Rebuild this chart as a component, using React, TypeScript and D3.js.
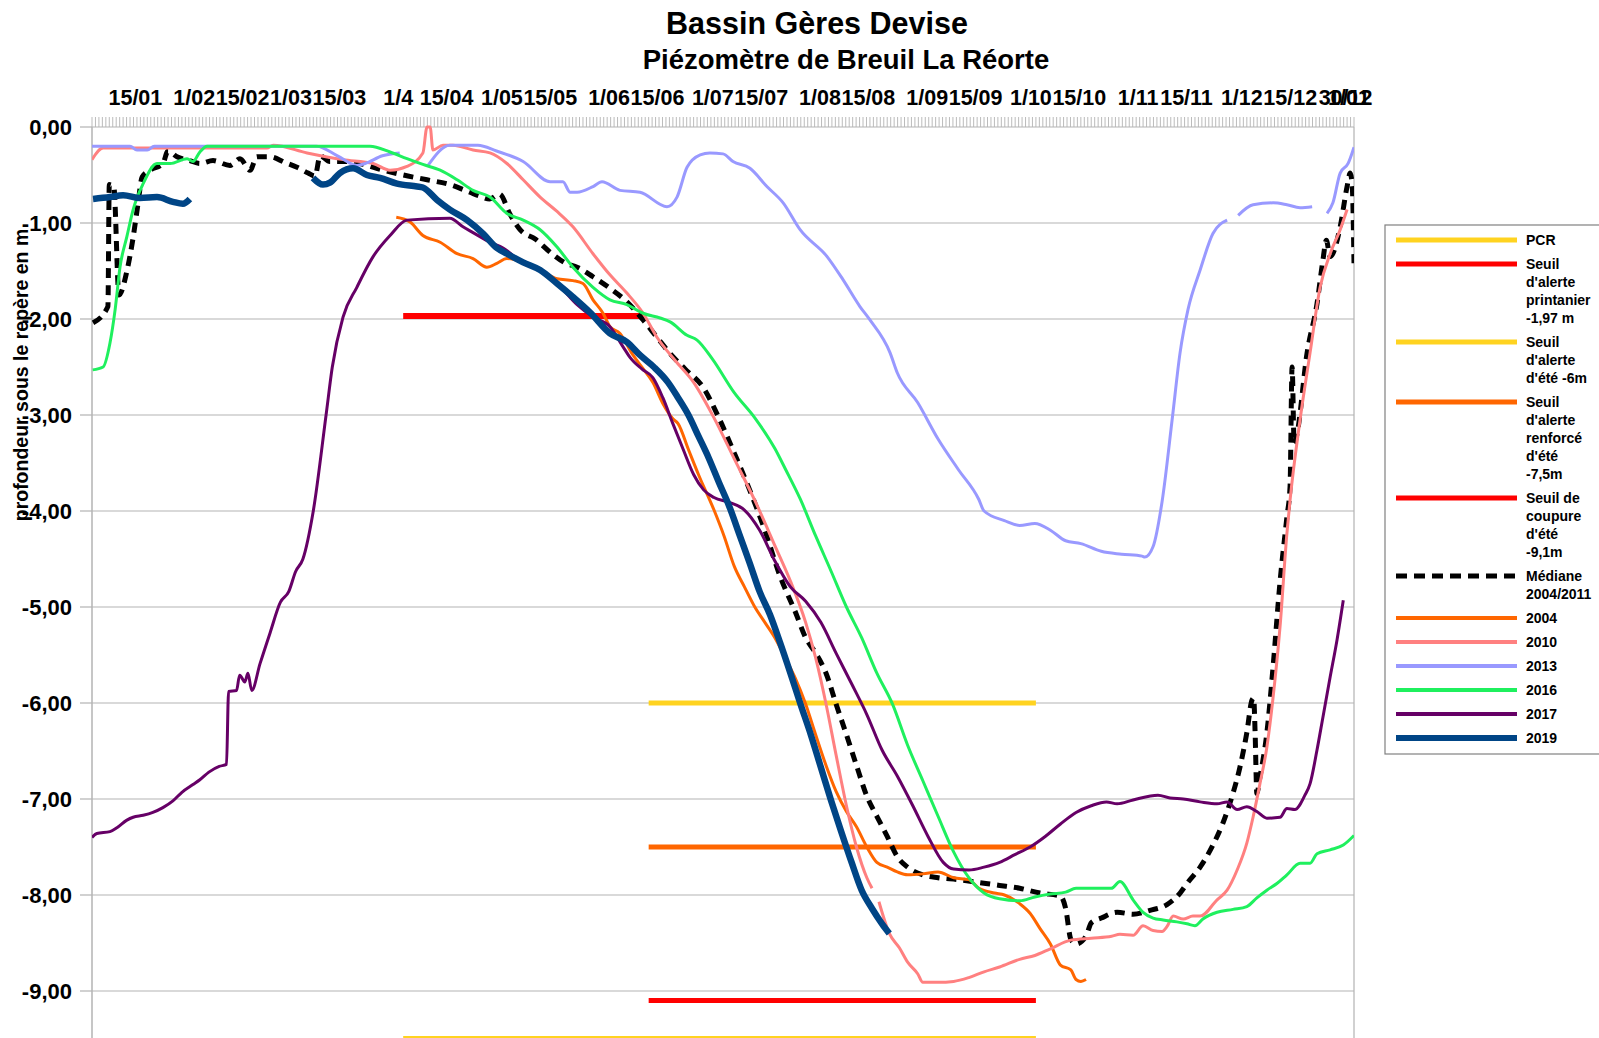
import React from 'react';
import * as d3 from 'd3';

type P = [number, number | null];

const W = 1599;
const H = 1038;
const PLOT = { left: 92, right: 1354, top: 127, bottom: 1087 };

const xLabelDays: number[] = [15, 32, 46, 60, 74, 91, 105, 121, 135, 152, 166, 182, 196, 213, 227, 244, 258, 274, 288, 305, 319, 335, 349, 365, 366];
const xLabelTexts: string[] = ['15/01', '1/02', '15/02', '1/03', '15/03', '1/4', '15/04', '1/05', '15/05', '1/06', '15/06', '1/07', '15/07', '1/08', '15/08', '1/09', '15/09', '1/10', '15/10', '1/11', '15/11', '1/12', '15/12', '30/12', '1/01'];
const yTickValues: number[] = [0, -1, -2, -3, -4, -5, -6, -7, -8, -9];

const pcr: P[] = [[91, -9.5], [274, -9.5]];
const seuilPrintanier: P[] = [[91, -1.97], [161, -1.97]];
const seuilEte: P[] = [[162, -6], [274, -6]];
const seuilRenforce: P[] = [[162, -7.5], [274, -7.5]];
const seuilCoupure: P[] = [[162, -9.1], [274, -9.1]];

const mediane: P[] = [[1.3, -2.04], [5.6, -1.87], [6.0, -0.6], [7.3, -0.62], [8.8, -1.75], [11.1, -1.5], [12.9, -1.15], [14.3, -0.8], [15.5, -0.52], [17.8, -0.45], [21.5, -0.38], [23, -0.25], [25.6, -0.31], [29.3, -0.35], [32.2, -0.38], [36, -0.35], [40.9, -0.4], [43.8, -0.33], [46.7, -0.45], [48.7, -0.31], [52.5, -0.31], [56.8, -0.37], [60.3, -0.42], [63.5, -0.48], [65.5, -0.51], [67, -0.3], [69.8, -0.36], [74.2, -0.36], [78.5, -0.38], [85.2, -0.45], [91, -0.5], [97.9, -0.55], [104.5, -0.6], [110.3, -0.68], [113.2, -0.72], [116, -0.75], [118.9, -0.7], [121.9, -0.91], [124.8, -1.07], [129.3, -1.17], [133.7, -1.31], [138.1, -1.42], [141.3, -1.46], [145.9, -1.56], [150.8, -1.68], [155.7, -1.82], [160.4, -2.01], [164.4, -2.19], [168.2, -2.36], [172.5, -2.52], [177.9, -2.72], [182.3, -3.03], [186.8, -3.4], [191.2, -3.78], [195.6, -4.2], [200, -4.68], [204.4, -5.05], [207.4, -5.32], [210.3, -5.48], [213.3, -5.69], [216.2, -6.01], [219.2, -6.33], [222.1, -6.65], [225.1, -6.97], [228, -7.18], [231, -7.39], [233.9, -7.6], [236.9, -7.71], [241.3, -7.79], [245.7, -7.82], [251.6, -7.84], [257.5, -7.87], [263.5, -7.9], [269.3, -7.93], [275.2, -7.98], [281.1, -8.01], [282.6, -8.14], [284.1, -8.46], [285.6, -8.51], [288.5, -8.43], [290, -8.29], [292.9, -8.24], [297.5, -8.18], [302.1, -8.2], [307, -8.16], [311.9, -8.1], [315.7, -7.98], [317.7, -7.88], [321.5, -7.71], [325.2, -7.48], [328.1, -7.25], [331, -6.94], [333, -6.67], [335, -6.31], [336.5, -5.97], [337, -5.95], [337.4, -6.31], [337.9, -6.94], [338.8, -6.77], [340.8, -6.31], [342.6, -5.62], [344.6, -4.74], [346.6, -4.06], [347.5, -3.75], [348.1, -2.5], [348.7, -3.3], [349.5, -3.2], [352.4, -2.36], [355.3, -1.84], [357, -1.39], [358, -1.18], [359.1, -1.35], [362, -1.04], [364, -0.62], [364.9, -0.48], [365.5, -0.62], [366, -1.42]];

const y2004: P[] = [[89, -0.94], [93, -0.99], [96.7, -1.13], [101.7, -1.2], [106.6, -1.32], [111.2, -1.37], [115.2, -1.46], [118.1, -1.42], [121, -1.37], [125.7, -1.41], [130.6, -1.49], [135.5, -1.58], [140.1, -1.6], [143, -1.63], [145.9, -1.8], [148.8, -1.94], [150.8, -2.08], [153.7, -2.15], [157.2, -2.36], [160, -2.5], [163.2, -2.66], [166.1, -2.88], [169, -3.04], [170.5, -3.09], [173.5, -3.36], [176.4, -3.62], [180.9, -3.99], [183.8, -4.26], [186.8, -4.58], [189.7, -4.79], [192.7, -5.0], [195.6, -5.16], [198.5, -5.32], [201.5, -5.53], [204.4, -5.74], [207.4, -6.01], [210.3, -6.33], [213.3, -6.65], [216.2, -6.92], [219.2, -7.13], [222.1, -7.29], [225.1, -7.5], [228, -7.66], [231, -7.71], [233.9, -7.76], [236.9, -7.79], [241.3, -7.78], [245.7, -7.76], [250.2, -7.82], [254.6, -7.84], [257.5, -7.93], [262, -7.98], [264.9, -8.0], [269.3, -8.09], [272.3, -8.19], [275.2, -8.35], [278.2, -8.51], [281.1, -8.73], [284.1, -8.78], [285.6, -8.88], [287, -8.9], [288.5, -8.88]];

const y2010: P[] = [[1, -0.34], [4.2, -0.22], [51.6, -0.22], [53.4, -0.19], [63.2, -0.27], [73.6, -0.34], [82.3, -0.38], [87.2, -0.45], [92.1, -0.41], [96.7, -0.27], [97.9, 0.0], [98.8, 0.0], [99.6, -0.24], [102.5, -0.19], [105.4, -0.19], [111.2, -0.24], [116.1, -0.27], [121, -0.38], [125.7, -0.55], [130.6, -0.73], [135.5, -0.88], [140.1, -1.04], [145.9, -1.32], [150.8, -1.54], [155.7, -1.73], [160.4, -1.94], [164.4, -2.19], [169.6, -2.43], [175, -2.66], [180.9, -3.03], [186.8, -3.46], [192.7, -3.89], [198.5, -4.36], [203, -4.73], [207.4, -5.16], [210.3, -5.53], [213.3, -6.01], [216.2, -6.54], [219.2, -7.07], [222.1, -7.5], [225.1, -7.82], [226.6, -7.93], [227.5, null], [228.6, -8.07], [231.6, -8.4], [234.5, -8.55], [236.9, -8.7], [239.8, -8.82], [241.3, -8.91], [245.7, -8.91], [250.2, -8.9], [254.6, -8.86], [259, -8.8], [263.5, -8.75], [269.3, -8.67], [273.7, -8.63], [278.2, -8.56], [284.1, -8.47], [290, -8.45], [295.9, -8.43], [298.3, -8.41], [302.1, -8.42], [305, -8.32], [307.9, -8.37], [310.5, -8.38], [311.9, -8.33], [313.7, -8.22], [316.6, -8.25], [319.4, -8.22], [321.5, -8.22], [326.4, -8.05], [329.3, -7.95], [332.2, -7.74], [335, -7.46], [336.8, -7.19], [338.8, -6.84], [340.8, -6.46], [342.6, -5.94], [344.6, -5.21], [346.6, -4.23], [347.5, -3.89], [350.4, -3.05], [353.3, -2.35], [356.2, -1.67], [359.1, -1.32], [362, -1.07], [364, -0.86]];

const y2013: P[] = [[1, -0.2], [12, -0.2], [14, -0.24], [17, -0.24], [19, -0.2], [66, -0.2], [72, -0.3], [77.6, -0.4], [80, -0.38], [85, -0.3], [90, -0.27], [91, null], [98.2, -0.4], [104.5, -0.19], [112.6, -0.19], [118, -0.25], [125.7, -0.36], [133.5, -0.57], [137.2, -0.57], [139.3, -0.68], [141.3, -0.68], [145.9, -0.62], [148.5, -0.57], [153.7, -0.66], [159.5, -0.68], [167.3, -0.83], [170.2, -0.73], [173.1, -0.42], [176.9, -0.29], [179.7, -0.27], [183.5, -0.28], [186.4, -0.36], [191.3, -0.43], [196.2, -0.62], [200.9, -0.79], [205.8, -1.07], [213.6, -1.35], [218.2, -1.59], [223.1, -1.87], [226, -2.01], [231.8, -2.35], [233.9, -2.56], [239.8, -2.87], [245.7, -3.25], [251.6, -3.57], [257.5, -3.88], [259, -4.0], [264.9, -4.1], [269.3, -4.15], [273.7, -4.13], [278.2, -4.2], [282.6, -4.31], [287, -4.34], [292.9, -4.42], [298.8, -4.45], [304.7, -4.47], [305.5, -4.48], [307.9, -4.37], [310.5, -3.9], [313.4, -3.05], [315.7, -2.35], [318, -1.9], [321.5, -1.49], [325.2, -1.11], [329.3, -0.97], [330.5, null], [332.5, -0.92], [336.8, -0.81], [342.6, -0.79], [346.6, -0.81], [350.4, -0.84], [353.9, -0.83], [355.5, null], [358.2, -0.9], [359.9, -0.79], [362, -0.48], [364.3, -0.38], [366, -0.21]];

const y2016: P[] = [[1.2, -2.53], [4.2, -2.5], [6.2, -2.25], [7.7, -1.9], [9.1, -1.46], [11.1, -1.14], [12.9, -0.86], [15.8, -0.59], [19.8, -0.38], [23.6, -0.38], [28.5, -0.33], [30.2, -0.36], [32.2, -0.26], [34.3, -0.2], [81.4, -0.2], [87.2, -0.26], [92.1, -0.33], [96.7, -0.39], [101.7, -0.45], [106.6, -0.55], [111.2, -0.66], [116.1, -0.73], [121, -0.9], [125.7, -0.97], [130.6, -1.07], [135.5, -1.25], [140.1, -1.46], [145.9, -1.67], [150.8, -1.8], [155.7, -1.85], [160.4, -1.94], [165.3, -1.99], [168.2, -2.03], [173.1, -2.17], [176, -2.22], [180.3, -2.41], [186.8, -2.77], [192.7, -3.03], [198.5, -3.35], [201.5, -3.56], [205.9, -3.88], [210.3, -4.26], [214.8, -4.63], [219.2, -5.0], [223.6, -5.32], [228, -5.69], [232.5, -6.01], [236.9, -6.44], [241.3, -6.81], [245.7, -7.18], [250.2, -7.55], [254.6, -7.82], [259, -7.98], [263.5, -8.04], [269.3, -8.06], [273.7, -8.02], [278.2, -7.99], [282.6, -7.97], [285.6, -7.93], [290, -7.93], [292.9, -7.93], [295.8, -7.93], [298.3, -7.86], [302.1, -8.05], [305, -8.18], [307.9, -8.24], [310.8, -8.26], [314.8, -8.28], [317.7, -8.3], [320, -8.32], [322.3, -8.25], [326.4, -8.18], [331, -8.15], [335, -8.12], [337.9, -8.03], [340.8, -7.95], [343.7, -7.88], [346.6, -7.79], [350.4, -7.67], [353.3, -7.67], [355.3, -7.57], [359.1, -7.53], [362.9, -7.48], [366, -7.38]];

const y2017: P[] = [[1, -7.4], [2.4, -7.36], [6.2, -7.34], [8.2, -7.3], [11.1, -7.22], [12.9, -7.19], [15.8, -7.17], [18.6, -7.14], [21.5, -7.09], [24.4, -7.02], [27, -6.93], [30.2, -6.85], [32.2, -6.8], [34.8, -6.72], [37.8, -6.66], [39.9, -6.64], [40.5, -5.88], [42.8, -5.87], [43.7, -5.71], [45.2, -5.78], [46.1, -5.69], [47.2, -5.87], [49.6, -5.59], [52.5, -5.27], [55.5, -4.95], [57.9, -4.84], [59.9, -4.63], [62, -4.5], [65, -4.0], [68.7, -3.0], [70.5, -2.5], [73.6, -1.98], [77.6, -1.67], [82.3, -1.35], [87.2, -1.13], [92.1, -0.97], [104.5, -0.95], [108.3, -1.04], [111.2, -1.1], [116.1, -1.2], [119.9, -1.26], [125.7, -1.42], [129.7, -1.47], [135.5, -1.63], [141.3, -1.85], [145.9, -1.98], [150.8, -2.08], [154.6, -2.29], [156.6, -2.4], [160, -2.52], [163.2, -2.61], [166.1, -2.82], [169, -3.09], [172, -3.36], [175, -3.62], [177.9, -3.78], [180.9, -3.86], [185.3, -3.91], [189.7, -3.99], [194.1, -4.2], [198.5, -4.52], [203, -4.79], [207.4, -4.94], [211.8, -5.16], [216.2, -5.48], [220.7, -5.8], [225.1, -6.12], [229.5, -6.49], [233.9, -6.76], [238.4, -7.07], [242.8, -7.39], [247.2, -7.66], [250.2, -7.73], [254.6, -7.74], [259, -7.71], [263.5, -7.66], [267.9, -7.58], [272.3, -7.5], [276.7, -7.39], [281.1, -7.26], [285.6, -7.14], [290, -7.07], [294.4, -7.03], [297.5, -7.05], [302.1, -7.01], [309.3, -6.96], [312.8, -6.99], [316.6, -7.0], [321.5, -7.03], [326.4, -7.05], [329.3, -7.03], [332.2, -7.11], [335, -7.08], [337.9, -7.13], [340.8, -7.2], [344.6, -7.19], [346.6, -7.1], [348.9, -7.11], [351.8, -6.96], [353.3, -6.84], [355.3, -6.49], [357, -6.15], [359.1, -5.73], [361.1, -5.34], [362.9, -4.93]];

const y2019: P[] = [[1.3, -0.75], [6.2, -0.73], [10, -0.71], [14.9, -0.74], [19.8, -0.73], [24.4, -0.78], [27.3, -0.8], [29.3, -0.75], [30, null], [64.9, -0.53], [67.8, -0.6], [69.8, -0.58], [72.7, -0.48], [76.5, -0.43], [80.5, -0.5], [84.3, -0.53], [89.2, -0.59], [95, -0.62], [96.7, -0.63], [100.8, -0.76], [104.5, -0.86], [109.5, -0.97], [114.1, -1.11], [118.1, -1.26], [121, -1.32], [125.7, -1.41], [130.6, -1.49], [135.5, -1.63], [140.1, -1.77], [145, -1.93], [150.8, -2.15], [155.7, -2.24], [159.6, -2.38], [163.5, -2.5], [167.6, -2.66], [170.5, -2.82], [173.5, -3.0], [176.4, -3.22], [179.4, -3.45], [182.3, -3.7], [185.3, -3.95], [188.2, -4.24], [191.2, -4.54], [194.1, -4.84], [197.1, -5.08], [200, -5.37], [203, -5.69], [205.9, -6.01], [208.9, -6.33], [211.8, -6.67], [214.8, -7.02], [217.7, -7.34], [220.7, -7.66], [223.6, -7.95], [226.6, -8.14], [229.5, -8.3], [231.6, -8.4]];

interface Series {
  key: string;
  label: string[];
  data: P[];
  color: string;
  width: number;
  legendWidth: number;
  dash?: string;
}

const series: Series[] = [
  { key: 'pcr', label: ['PCR'], data: pcr, color: '#ffd320', width: 6, legendWidth: 5 },
  { key: 'printanier', label: ['Seuil', "d'alerte", 'printanier', '-1,97 m'], data: seuilPrintanier, color: '#ff0000', width: 6, legendWidth: 5 },
  { key: 'ete', label: ['Seuil', "d'alerte", "d'été -6m"], data: seuilEte, color: '#ffd320', width: 5, legendWidth: 5 },
  { key: 'renforce', label: ['Seuil', "d'alerte", 'renforcé', "d'été", '-7,5m'], data: seuilRenforce, color: '#ff6600', width: 5, legendWidth: 5 },
  { key: 'coupure', label: ['Seuil de', 'coupure', "d'été", '-9,1m'], data: seuilCoupure, color: '#ff0000', width: 5, legendWidth: 5 },
  { key: 'mediane', label: ['Médiane', '2004/2011'], data: mediane, color: '#000000', width: 5, legendWidth: 5, dash: '10,7' },
  { key: '2004', label: ['2004'], data: y2004, color: '#ff6600', width: 3, legendWidth: 4 },
  { key: '2010', label: ['2010'], data: y2010, color: '#ff8080', width: 3, legendWidth: 4 },
  { key: '2013', label: ['2013'], data: y2013, color: '#9999ff', width: 3, legendWidth: 4 },
  { key: '2016', label: ['2016'], data: y2016, color: '#1ff05e', width: 3, legendWidth: 4 },
  { key: '2017', label: ['2017'], data: y2017, color: '#660066', width: 3, legendWidth: 4 },
  { key: '2019', label: ['2019'], data: y2019, color: '#004586', width: 6.5, legendWidth: 6 },
];

const FONT = '"Liberation Sans", Arial, sans-serif';
const GRID = '#b3b3b3';

export default function App() {
  const x = d3.scaleLinear().domain([1, 366]).range([PLOT.left, PLOT.right]);
  const y = d3.scaleLinear().domain([0, -10]).range([PLOT.top, PLOT.bottom]);
  const line = d3
    .line<P>()
    .defined((d) => d[1] !== null)
    .x((d) => x(d[0]))
    .y((d) => y(d[1] as number))
    .curve(d3.curveMonotoneX);
  const straight = d3
    .line<P>()
    .defined((d) => d[1] !== null)
    .x((d) => x(d[0]))
    .y((d) => y(d[1] as number));

  const fmt = (v: number) => d3.format('.2f')(v).replace('.', ',').replace('−', '-');
  const days = d3.range(1, 367);

  const legendX = 1385;
  const legendTop = 225;
  let cy = 240;
  const legendItems = series.map((s) => {
    const item = { s, y: cy };
    cy += s.label.length * 18 + 6;
    return item;
  });

  return (
    <svg
      width={W}
      height={H}
      style={{ position: 'absolute', left: 0, top: 0, background: '#fff' }}
      fontFamily={FONT}
    >
      <rect x={0} y={0} width={W} height={H} fill="#fff" />
      <defs>
        <clipPath id="plotClip">
          <rect x={PLOT.left} y={PLOT.top - 2} width={PLOT.right - PLOT.left} height={PLOT.bottom - PLOT.top + 2} />
        </clipPath>
      </defs>

      <text x={817} y={34} textAnchor="middle" fontSize={30.5} fontWeight="bold" fill="#000">
        Bassin Gères Devise
      </text>
      <text x={846} y={69} textAnchor="middle" fontSize={27.5} fontWeight="bold" fill="#000">
        Piézomètre de Breuil La Réorte
      </text>

      {yTickValues.map((v) => (
        <g key={'g' + v}>
          <line x1={PLOT.left} x2={PLOT.right} y1={y(v)} y2={y(v)} stroke={GRID} strokeWidth={1.2} />
          <line x1={80} x2={PLOT.left} y1={y(v)} y2={y(v)} stroke={GRID} strokeWidth={1.2} />
          <text x={72} y={y(v) + 7.5} textAnchor="end" fontSize={22} fontWeight="bold" fill="#000">
            {fmt(v)}
          </text>
        </g>
      ))}

      <line x1={PLOT.left} x2={PLOT.left} y1={PLOT.top} y2={PLOT.bottom} stroke={GRID} strokeWidth={1.5} />
      <line x1={PLOT.right} x2={PLOT.right} y1={PLOT.top} y2={PLOT.bottom} stroke={GRID} strokeWidth={1.2} />

      {days.map((d) => (
        <line key={'t' + d} x1={x(d)} x2={x(d)} y1={117} y2={PLOT.top} stroke={GRID} strokeWidth={0.9} />
      ))}

      {xLabelDays.map((d, i) => (
        <text key={'xl' + i} x={x(d) - 5} y={105} textAnchor="middle" fontSize={21.5} fontWeight="bold" fill="#000">
          {xLabelTexts[i]}
        </text>
      ))}

      <text
        transform="translate(28,375) rotate(-90)"
        textAnchor="middle"
        fontSize={19.5}
        fontWeight="bold"
        fill="#000"
      >
        profondeur sous le repère en m
      </text>

      <g clipPath="url(#plotClip)">
        {series.map((s) => (
          <path
            key={s.key}
            d={(s.data.length > 2 ? line(s.data) : straight(s.data)) || ''}
            fill="none"
            stroke={s.color}
            strokeWidth={s.width}
            strokeDasharray={s.dash}
            strokeLinejoin="round"
          />
        ))}
      </g>

      <rect x={legendX} y={legendTop} width={W - legendX + 20} height={529} fill="#fff" stroke="#808080" strokeWidth={1.2} />
      {legendItems.map(({ s, y: ly }) => (
        <g key={'lg' + s.key}>
          <line
            x1={1396}
            x2={1517}
            y1={ly}
            y2={ly}
            stroke={s.color}
            strokeWidth={s.legendWidth}
            strokeDasharray={s.dash ? '11,7' : undefined}
          />
          {s.label.map((t, j) => (
            <text key={j} x={1526} y={ly + 5 + j * 18} fontSize={14} fontWeight="bold" fill="#000">
              {t}
            </text>
          ))}
        </g>
      ))}
    </svg>
  );
}
